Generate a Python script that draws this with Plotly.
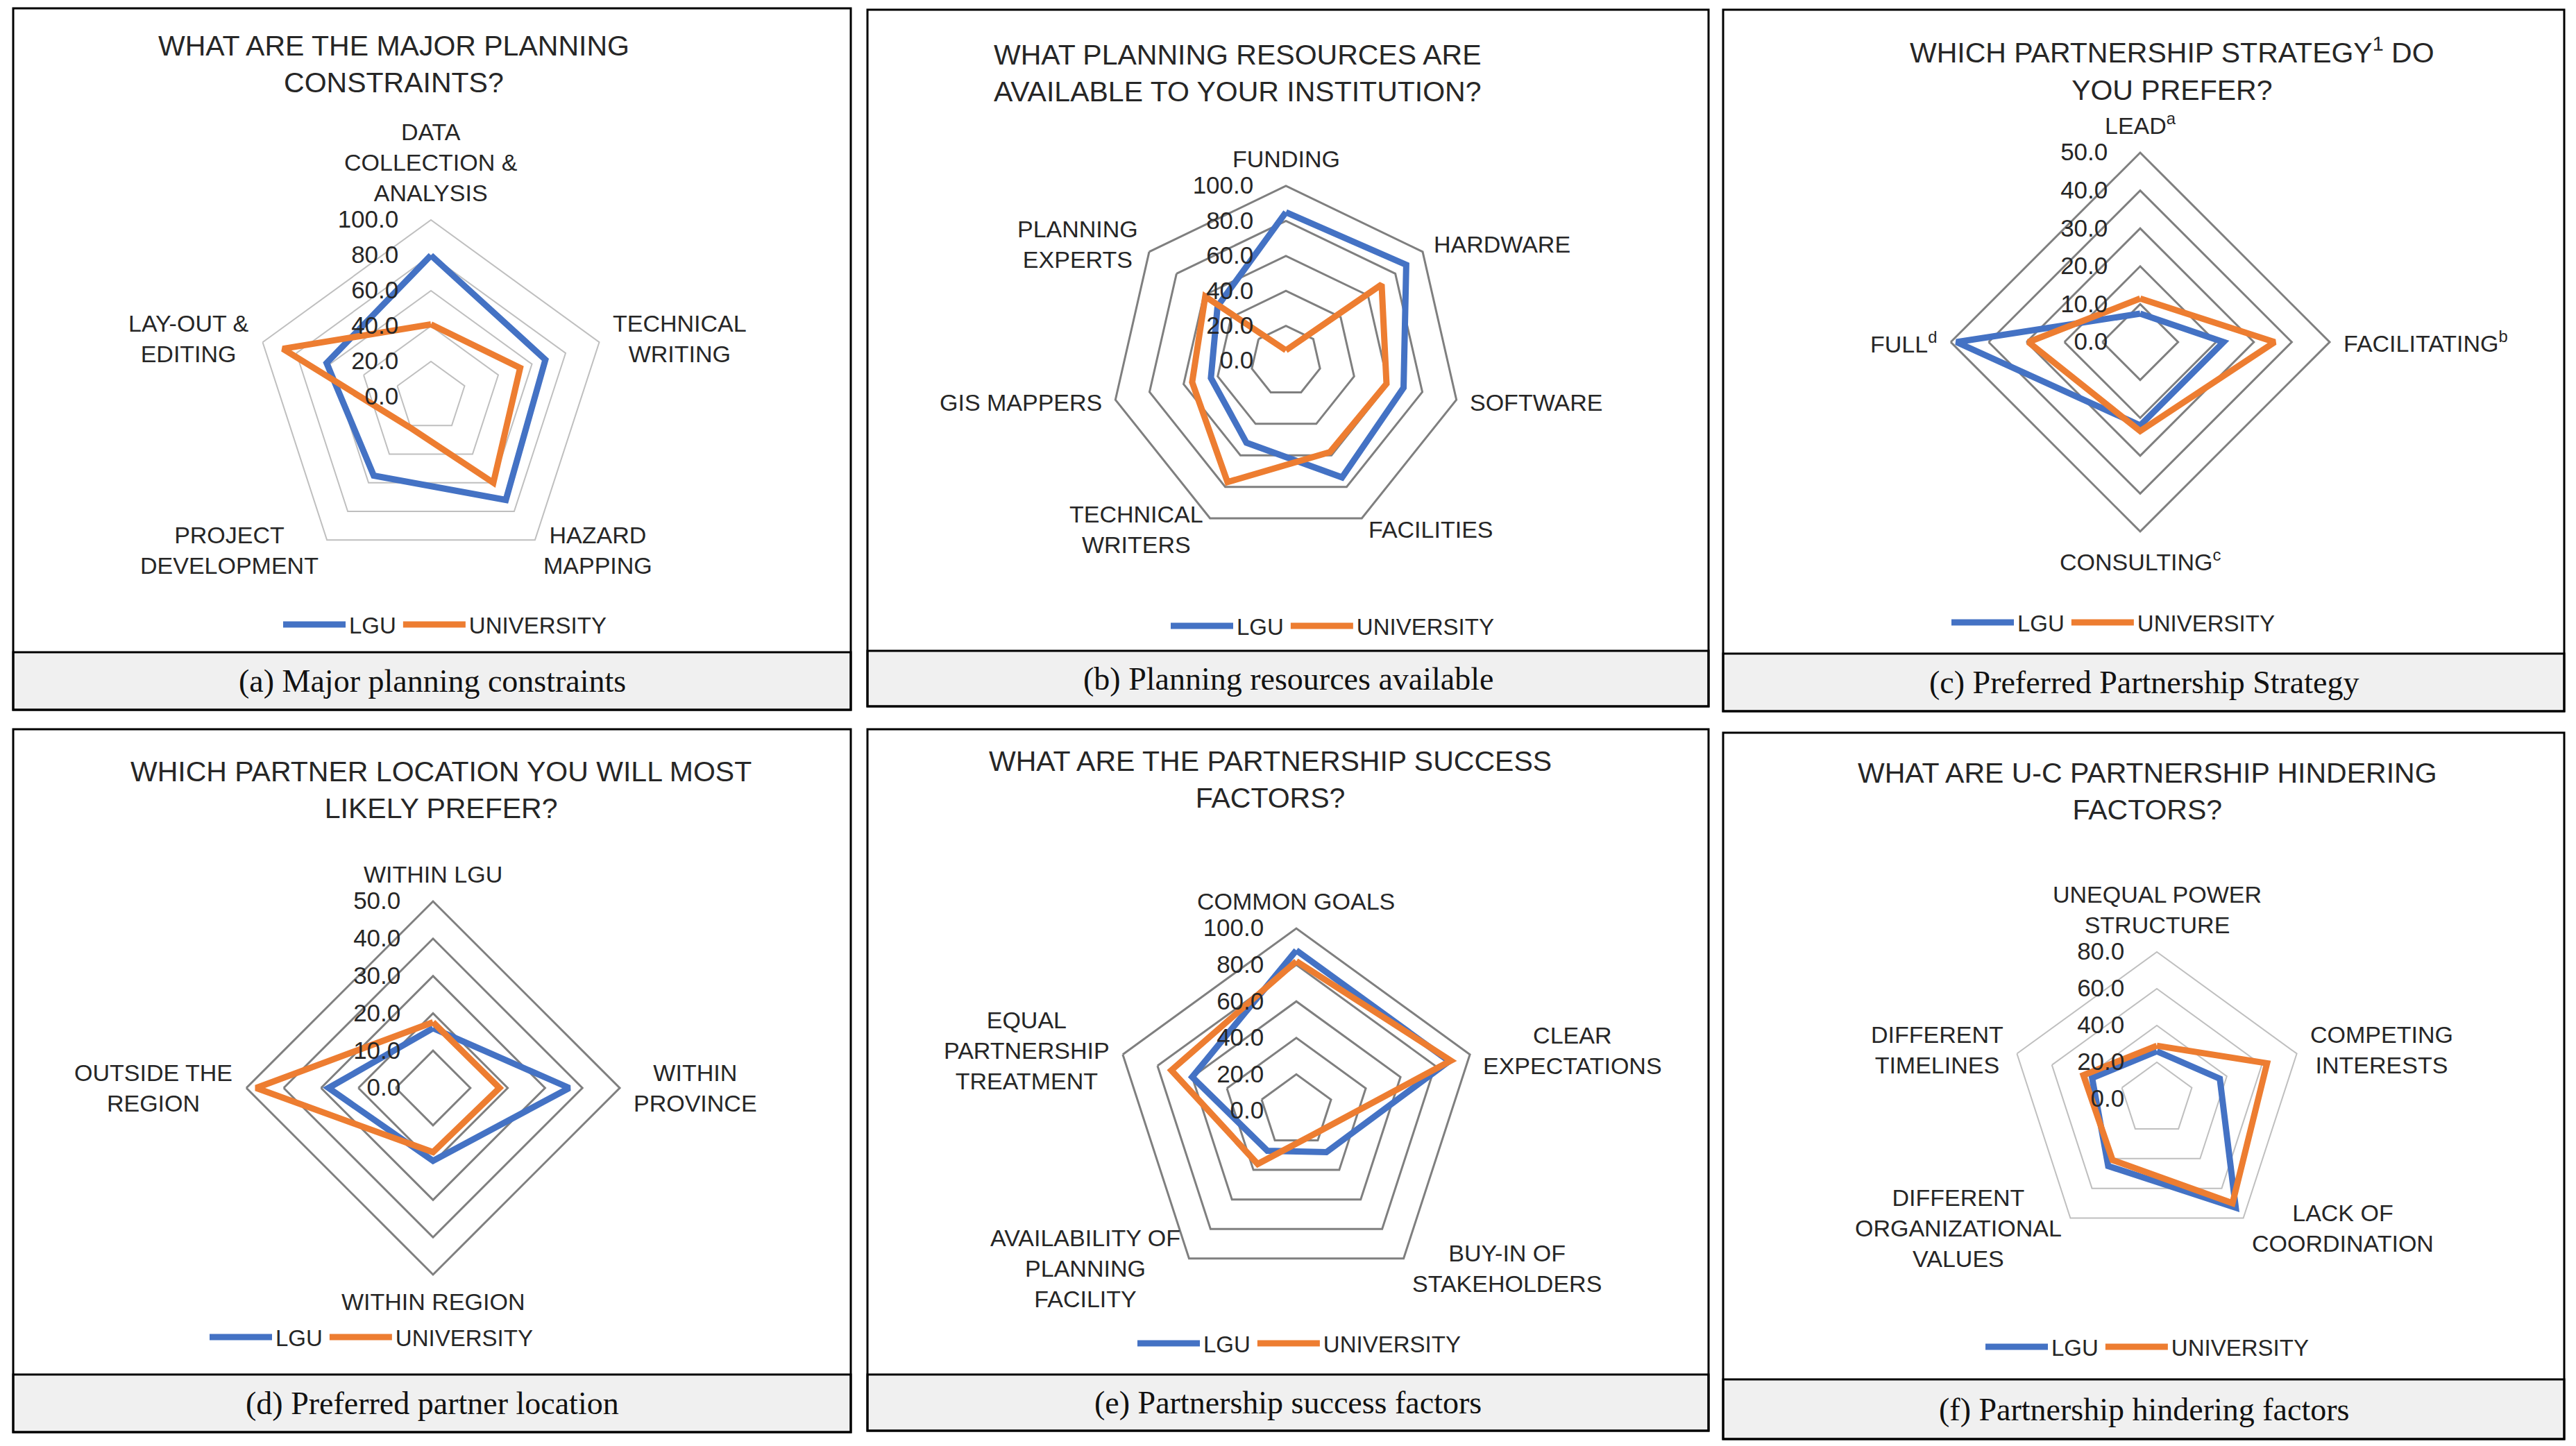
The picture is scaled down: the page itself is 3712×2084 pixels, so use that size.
import math
import plotly.graph_objects as go

W, H = 3712, 2084

# ---------------- data ----------------
series_names = ["LGU", "UNIVERSITY"]

a_categories = ["DATA<br>COLLECTION &amp;<br>ANALYSIS", "TECHNICAL<br>WRITING", "HAZARD<br>MAPPING",
                "PROJECT<br>DEVELOPMENT", "LAY-OUT &amp;<br>EDITING"]
a_lgu = [80, 68, 72, 55, 62]
a_uni = [41, 53, 60, 21, 88]
a_ticks = [0, 20, 40, 60, 80, 100]

b_categories = ["FUNDING", "HARDWARE", "SOFTWARE", "FACILITIES", "TECHNICAL<br>WRITERS",
                "GIS MAPPERS", "PLANNING<br>EXPERTS"]
b_lgu = [85, 88, 69, 74, 52, 44, 50]
b_uni = [6, 70, 59, 58, 77, 55, 59]
b_ticks = [0, 20, 40, 60, 80, 100]

c_categories = ["LEAD<sup>a</sup>", "FACILITATING<sup>b</sup>", "CONSULTING<sup>c</sup>", "FULL<sup>d</sup>"]
c_lgu = [7.5, 22, 22, 48.5]
c_uni = [11.5, 35.5, 23.5, 29.5]
c_ticks = [0, 10, 20, 30, 40, 50]

d_categories = ["WITHIN LGU", "WITHIN<br>PROVINCE", "WITHIN REGION", "OUTSIDE THE<br>REGION"]
d_lgu = [16, 36.5, 19.5, 28]
d_uni = [17.6, 17.8, 17.2, 47.4]
d_ticks = [0, 10, 20, 30, 40, 50]

e_categories = ["COMMON GOALS", "CLEAR<br>EXPECTATIONS", "BUY-IN OF<br>STAKEHOLDERS",
                "AVAILABILITY OF<br>PLANNING<br>FACILITY", "EQUAL<br>PARTNERSHIP<br>TREATMENT"]
e_lgu = [88, 88, 28, 27, 60]
e_uni = [82, 89, 16, 36, 72]
e_ticks = [0, 20, 40, 60, 80, 100]

f_categories = ["UNEQUAL POWER<br>STRUCTURE", "COMPETING<br>INTERESTS", "LACK OF<br>COORDINATION",
                "DIFFERENT<br>ORGANIZATIONAL<br>VALUES", "DIFFERENT<br>TIMELINES"]
f_lgu = [26, 36, 73, 45, 37]
f_uni = [29, 63, 70, 41, 42]
f_ticks = [0, 20, 40, 60, 80]

titles = ["WHAT ARE THE MAJOR PLANNING<br>CONSTRAINTS?",
          "WHAT PLANNING RESOURCES ARE<br>AVAILABLE TO YOUR INSTITUTION?",
          "WHICH PARTNERSHIP STRATEGY<sup>1</sup> DO<br>YOU PREFER?",
          "WHICH PARTNER LOCATION YOU WILL MOST<br>LIKELY PREFER?",
          "WHAT ARE THE PARTNERSHIP SUCCESS<br>FACTORS?",
          "WHAT ARE U-C PARTNERSHIP HINDERING<br>FACTORS?"]
captions = ["(a) Major planning constraints",
            "(b) Planning resources available",
            "(c) Preferred Partnership Strategy",
            "(d) Preferred partner location",
            "(e) Partnership success factors",
            "(f) Partnership hindering factors"]

panels_data = [
    (a_categories, a_lgu, a_uni, a_ticks),
    (b_categories, b_lgu, b_uni, b_ticks),
    (c_categories, c_lgu, c_uni, c_ticks),
    (d_categories, d_lgu, d_uni, d_ticks),
    (e_categories, e_lgu, e_uni, e_ticks),
    (f_categories, f_lgu, f_uni, f_ticks),
]

# ---------------- layout geometry (pixels) ----------------
# box: x0, x1, top, caption top, bottom
geom = [
    dict(c=(621, 572), R=255, box=(19, 1226, 12, 940, 1023), title=(567, 92), leg=(641, 900),
         grid="#bfbfbf", gw=2),
    dict(c=(1853, 520), R=252, box=(1250, 2462, 14, 938, 1018), title=(1783, 106), leg=(1920, 902),
         grid="#7f7f7f", gw=3),
    dict(c=(3084, 493), R=273, box=(2483, 3695, 14, 942, 1025), title=(3130, 100), leg=(3045, 897),
         grid="#7f7f7f", gw=3),
    dict(c=(624, 1568), R=269, box=(19, 1226, 1051, 1981, 2064), title=(635, 1138), leg=(535, 1927),
         grid="#7f7f7f", gw=3),
    dict(c=(1868, 1601), R=263, box=(1250, 2462, 1051, 1981, 2062), title=(1830, 1123), leg=(1872, 1936),
         grid="#7f7f7f", gw=3),
    dict(c=(3108, 1584), R=212, box=(2483, 3695, 1056, 1988, 2074), title=(3094, 1140), leg=(3094, 1941),
         grid="#bfbfbf", gw=2),
]

COL_LGU = "#4472C4"
COL_UNI = "#ED7D31"
SANS = "Liberation Sans, Arial, sans-serif"
SERIF = "Liberation Serif, Times New Roman, serif"
TXT = "#262626"
LABEL_GAP = 18


def px(x):
    return x / W


def py(y):
    return 1 - y / H


fig = go.Figure()
layout = dict(width=W, height=H, margin=dict(l=0, r=0, t=0, b=0),
              paper_bgcolor="white", plot_bgcolor="white", showlegend=True)
shapes = []
annotations = []

for i, ((cats, lgu, uni, ticks), g) in enumerate(zip(panels_data, geom)):
    n = i + 1
    pkey = "polar" if n == 1 else f"polar{n}"
    lkey = "legend" if n == 1 else f"legend{n}"
    cx, cy = g["c"]
    R = g["R"]
    for name, vals, col in ((series_names[0], lgu, COL_LGU), (series_names[1], uni, COL_UNI)):
        fig.add_trace(go.Scatterpolar(
            r=list(vals) + [vals[0]], theta=list(cats) + [cats[0]],
            mode="lines", name=name, line=dict(color=col, width=9),
            subplot=pkey, legend=lkey, hoverinfo="skip"))
    layout[pkey] = dict(
        domain=dict(x=[px(cx - R), px(cx + R)], y=[py(cy + R), py(cy - R)]),
        gridshape="linear", bgcolor="white",
        angularaxis=dict(type="category", categoryarray=list(cats), direction="clockwise", rotation=90,
                         showgrid=False, showline=True, linecolor=g["grid"], linewidth=g["gw"],
                         ticks="", showticklabels=False),
        radialaxis=dict(range=[ticks[0], ticks[-1]], tickvals=ticks, tickformat=".1f",
                        angle=90, tickangle=90, side="counterclockwise",
                        showline=False, ticks="outside", ticklen=34, tickcolor="rgba(0,0,0,0)",
                        gridcolor=g["grid"], gridwidth=g["gw"],
                        tickfont=dict(family=SANS, size=35, color=TXT)),
    )
    # category labels placed just outside each vertex of the radar frame (Excel style)
    ncat = len(cats)
    for k, lab in enumerate(cats):
        th = 2 * math.pi * k / ncat
        s, c = math.sin(th), math.cos(th)
        lx_ = cx + (R + LABEL_GAP) * s
        ly_ = cy - (R + LABEL_GAP) * c
        if abs(s) <= 0.1:
            xa = "center"
            ya = "bottom" if c > 0 else "top"
        else:
            xa = "left" if s > 0 else "right"
            ya = "middle"
        annotations.append(dict(text=lab, x=px(lx_), y=py(ly_), xref="paper", yref="paper",
                                xanchor=xa, yanchor=ya, showarrow=False, align="center",
                                font=dict(family=SANS, size=34, color=TXT)))
    lx, ly = g["leg"]
    layout[lkey] = dict(orientation="h", x=px(lx), y=py(ly), xanchor="center", yanchor="middle",
                        font=dict(family=SANS, size=33, color=TXT), itemwidth=90,
                        bgcolor="rgba(0,0,0,0)", itemclick=False, itemdoubleclick=False)
    x0, x1, yt, yc, yb = g["box"]
    shapes.append(dict(type="rect", xref="paper", yref="paper", x0=px(x0), x1=px(x1),
                       y0=py(yb), y1=py(yc), fillcolor="#f0f0f0", line=dict(color="black", width=3),
                       layer="below"))
    shapes.append(dict(type="rect", xref="paper", yref="paper", x0=px(x0), x1=px(x1),
                       y0=py(yb), y1=py(yt), line=dict(color="black", width=3)))
    tx, ty = g["title"]
    annotations.append(dict(text=titles[i], x=px(tx), y=py(ty), xref="paper", yref="paper",
                            xanchor="center", yanchor="middle", showarrow=False,
                            font=dict(family=SANS, size=41, color=TXT)))
    annotations.append(dict(text=captions[i], x=px((x0 + x1) / 2), y=py((yc + yb) / 2),
                            xref="paper", yref="paper", xanchor="center", yanchor="middle",
                            showarrow=False, font=dict(family=SERIF, size=46, color="#111111")))

layout["shapes"] = shapes
layout["annotations"] = annotations
fig.update_layout(**layout)

fig.write_html("out.html", config={"displayModeBar": False},
               post_script="document.body.style.margin='0';")
